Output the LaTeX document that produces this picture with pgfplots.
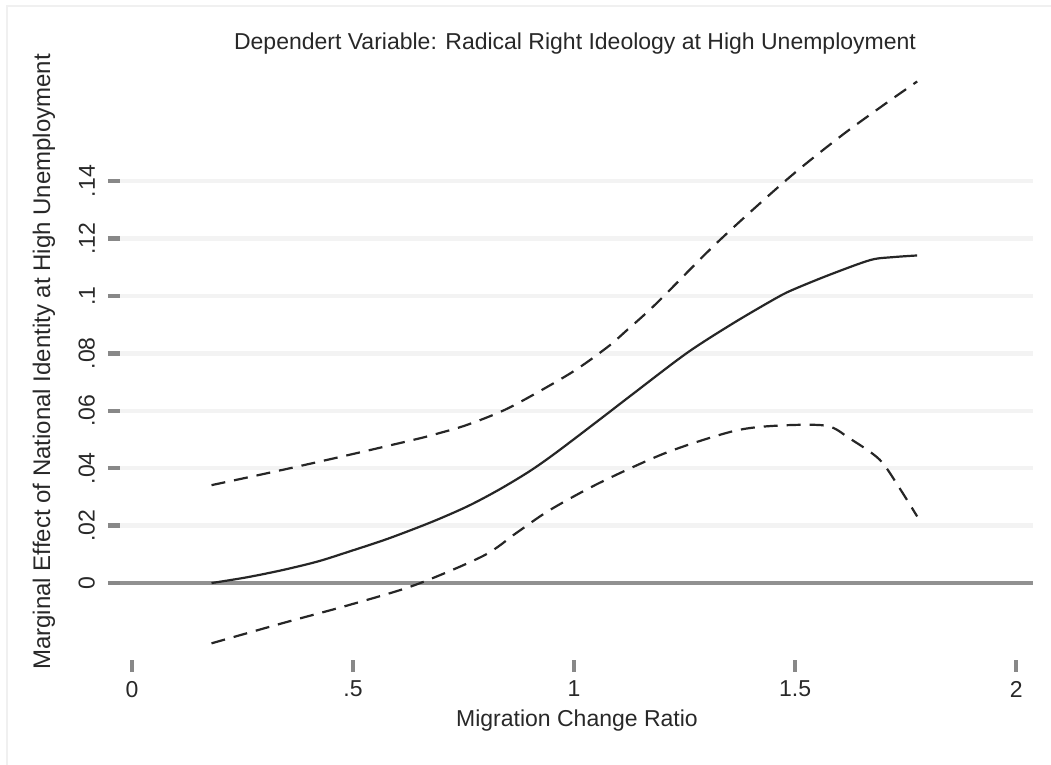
\documentclass[border=0pt]{standalone}
\usepackage{fontspec}
\setmainfont{Liberation Sans}
\usepackage{pgfplots}
\pgfplotsset{compat=1.18}

\definecolor{tickgray}{RGB}{136,136,136}
\definecolor{gridgray}{RGB}{243,243,243}
\definecolor{zerogray}{RGB}{145,145,145}
\definecolor{framegray}{RGB}{240,240,240}
\definecolor{txt}{RGB}{40,40,40}

\begin{document}
\begin{tikzpicture}
\useasboundingbox (0,0) rectangle (525.5pt,382.5pt);
\fill[white] (0,0) rectangle (525.5pt,382.5pt);
% outer frame of the embedded graph
\draw[framegray, line width=1.2pt] (3.5pt,0) -- (3.5pt,379.5pt) -- (525.5pt,379.5pt);

\begin{axis}[
    at={(60pt,52.5pt)}, anchor=south west,
    scale only axis,
    width=456.5pt, height=295pt,
    xmin=-0.027, xmax=2.038,
    ymin=-0.0268, ymax=0.1787,
    axis line style={draw=none},
    xtick={0,0.5,1,1.5,2},
    xticklabels={0,.5,1,1.5,2},
    ytick={0,0.02,0.04,0.06,0.08,0.1,0.12,0.14},
    yticklabels={0,.02,.04,.06,.08,.1,.12,.14},
    xtick pos=left, ytick pos=left,
    tick align=outside,
    major tick length=6pt,
    tick style={tickgray, line width=2.2pt},
    ymajorgrids,
    grid style={gridgray, line width=2.2pt},
    /pgf/number format/assume math mode=true,
    ticklabel style={font=\fontsize{11.5}{13}\selectfont, text=txt},
    xticklabel style={yshift=-1pt},
    yticklabel style={rotate=90, anchor=south},
    yticklabel shift=3pt,
    clip=false,
]
% zero reference line
\addplot[zerogray, line width=2.1pt] coordinates {(-0.027,0) (2.038,0)};

% upper bound
\addplot[black!85, line width=1.1pt, dash pattern=on 7pt off 4.5pt, smooth, tension=0.5] coordinates {
(0.18,0.0341) (0.34,0.0394) (0.49,0.0446) (0.64,0.0500) (0.69,0.0520)
(0.76,0.0552) (0.855,0.0612) (0.991,0.0730) (1.074,0.0820) (1.119,0.0880)
(1.187,0.0975) (1.323,0.1185) (1.481,0.1405) (1.602,0.1555) (1.70,0.1665)
(1.776,0.1747)};

% point estimate
\addplot[black!85, line width=1.1pt, smooth, tension=0.5] coordinates {
(0.18,0.0000) (0.26,0.0020) (0.34,0.0045) (0.42,0.0075) (0.49,0.0109)
(0.58,0.0155) (0.68,0.0214) (0.76,0.0268) (0.83,0.0325) (0.90,0.0390)
(0.96,0.0455) (1.06,0.0572) (1.13,0.0655) (1.255,0.0801) (1.36,0.0905)
(1.46,0.0995) (1.50,0.1025) (1.58,0.1075) (1.67,0.1125) (1.72,0.1135)
(1.776,0.1141)};

% lower bound
\addplot[black!85, line width=1.1pt, dash pattern=on 7pt off 4.5pt, smooth, tension=0.5] coordinates {
(0.18,-0.0210) (0.34,-0.0140) (0.49,-0.0077) (0.64,-0.0007) (0.795,0.0095)
(0.87,0.0175) (0.946,0.0255) (1.059,0.0350) (1.21,0.0455) (1.36,0.0529)
(1.457,0.0548) (1.57,0.0548) (1.623,0.0504) (1.691,0.0430) (1.736,0.0331)
(1.776,0.0232)};
\end{axis}

\node[anchor=base, text=txt, font=\fontsize{11.5}{13}\selectfont] at (287.5pt,357.5pt)
  {Dependert Variable: Radical Right Ideology at High Unemployment};
\node[anchor=base, text=txt, font=\fontsize{11.5}{13}\selectfont] at (288.5pt,19pt)
  {Migration Change Ratio};
\node[rotate=90, text=txt, font=\fontsize{12}{14}\selectfont] at (22pt,201.5pt)
  {Marginal Effect of National Identity at High Unemployment};
\end{tikzpicture}
\end{document}
